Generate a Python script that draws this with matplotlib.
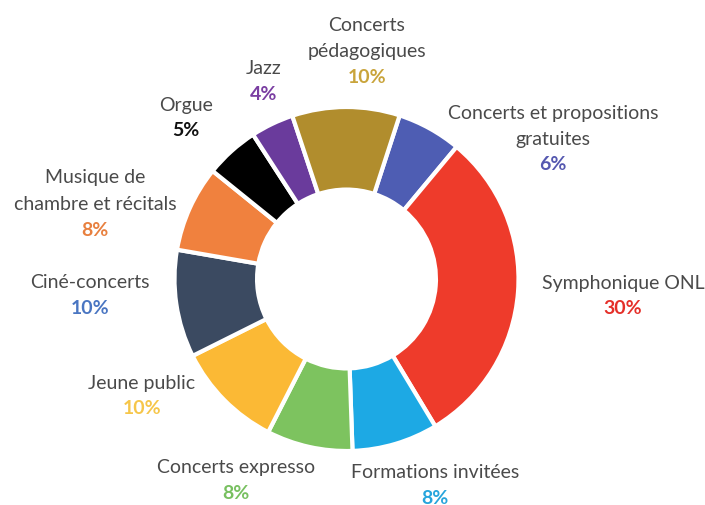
import matplotlib

matplotlib.use("Agg")
import matplotlib.pyplot as plt

# slices, clockwise from "Concerts et propositions gratuites"
categories = [
    "Concerts et propositions\ngratuites",
    "Symphonique ONL",
    "Formations invitées",
    "Concerts expresso",
    "Jeune public",
    "Ciné-concerts",
    "Musique de\nchambre et récitals",
    "Orgue",
    "Jazz",
    "Concerts\npédagogiques",
]
shares = [6, 30, 8, 8, 10, 10, 8, 5, 4, 10]

SLICE_COLORS = ["#4E5DB3", "#EE3B2B", "#1DA9E4", "#7DC35F", "#FBB935",
                "#3B4A61", "#F0813E", "#000000", "#6A3B9C", "#B18D2D"]
PCT_COLORS = ["#5558B0", "#E5302A", "#27A5DC", "#78C060", "#F6C64A",
              "#4A76C2", "#E8803F", "#111111", "#7A3EA2", "#C9A43B"]
TEXT = "#4A4A4A"
FONT = "Lato"

# label anchors in pixel space (x, y of first line from top)
LABEL_POS = [(553, 113), (623, 283), (435, 473), (236, 468), (142, 383),
             (90, 282), (95, 178), (186, 105), (264, 68), (367, 25)]
LINE = 26

W, H = 705, 506
fig = plt.figure(figsize=(W / 100, H / 100), dpi=100)
ax = fig.add_axes([0, 0, 1, 1])
fig.patch.set_facecolor("white")

R = 172
ax.pie(shares, colors=SLICE_COLORS, startangle=72, counterclock=False,
       radius=R, center=(346.5, H - 280),
       wedgeprops=dict(width=R * 0.48, edgecolor="white", linewidth=3))

for name, v, pc, (x, y) in zip(categories, shares, PCT_COLORS, LABEL_POS):
    lines = name.split("\n")
    for i, ln in enumerate(lines):
        ax.text(x, H - (y + i * LINE), ln, ha="center", va="center",
                fontsize=14, color=TEXT, family=FONT)
    ax.text(x, H - (y + len(lines) * LINE), f"{v}%", ha="center", va="center",
            fontsize=14, color=pc, fontweight="bold", family=FONT)

ax.set_xlim(0, W)
ax.set_ylim(0, H)
ax.set_aspect("equal")
ax.axis("off")

fig.savefig("out.png", dpi=100, facecolor="white")
